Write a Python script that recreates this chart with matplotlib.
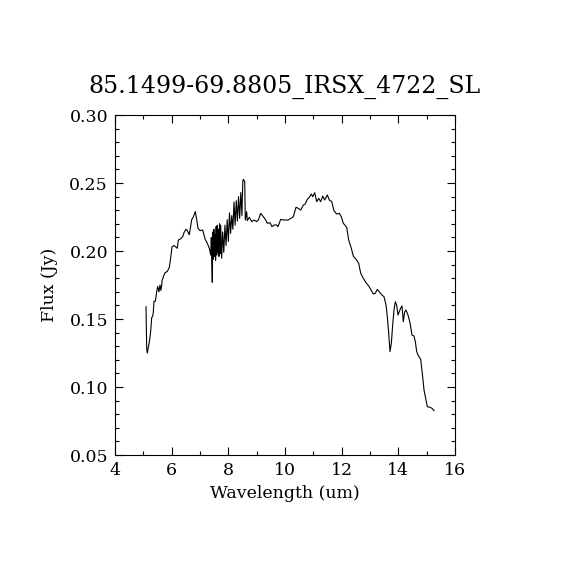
import matplotlib
matplotlib.use("Agg")
import matplotlib.pyplot as plt
from matplotlib.ticker import MultipleLocator, FormatStrFormatter

# spectrum
wave = [5.094, 5.119, 5.140, 5.211, 5.260, 5.295, 5.331, 5.352, 5.376, 5.422,
        5.472, 5.507, 5.550, 5.588, 5.620, 5.650, 5.659, 5.705, 5.765, 5.846,
        5.917, 5.966, 6.012, 6.082, 6.199, 6.234, 6.319, 6.389, 6.435, 6.506,
        6.552, 6.622, 6.707, 6.764, 6.834, 6.884, 6.929, 7.000, 7.095, 7.176,
        7.258, 7.328, 7.378, 7.400, 7.413, 7.434, 7.450, 7.470, 7.490, 7.510,
        7.530, 7.550, 7.570, 7.590, 7.610, 7.630, 7.650, 7.670, 7.690, 7.710,
        7.730, 7.766, 7.800, 7.840, 7.880, 7.920, 7.960, 8.000, 8.040, 8.080,
        8.120, 8.160, 8.200, 8.240, 8.280, 8.320, 8.360, 8.400, 8.440, 8.480,
        8.510, 8.530, 8.578, 8.599, 8.648, 8.669, 8.740, 8.825,
        8.906, 9.000, 9.058, 9.142, 9.234, 9.305, 9.375, 9.471, 9.541, 9.612,
        9.706, 9.753, 9.848, 9.940, 10.060, 10.116, 10.293, 10.388, 10.470, 10.554,
        10.646, 10.717, 10.787, 10.858, 10.929, 10.979, 11.048, 11.119, 11.190, 11.260,
        11.331, 11.400, 11.493, 11.564, 11.649, 11.729, 11.825, 11.917, 11.988, 12.058,
        12.178, 12.248, 12.340, 12.411, 12.506, 12.601, 12.672, 12.764, 12.859, 12.954,
        13.024, 13.116, 13.187, 13.258, 13.353, 13.424, 13.494, 13.565, 13.611, 13.660,
        13.706, 13.753, 13.800, 13.847, 13.894, 13.940, 13.988, 14.035, 14.080, 14.129,
        14.175, 14.224, 14.270, 14.341, 14.412, 14.482, 14.553, 14.600, 14.648, 14.694,
        14.788, 14.859, 14.906, 14.976, 15.023, 15.118, 15.188, 15.259]
flux = [0.159, 0.128, 0.125, 0.133, 0.141, 0.151, 0.152, 0.155, 0.163, 0.163,
        0.170, 0.174, 0.170, 0.175, 0.171, 0.175, 0.178, 0.181, 0.184, 0.185,
        0.188, 0.195, 0.203, 0.204, 0.202, 0.208, 0.209, 0.2105, 0.2135, 0.216,
        0.215, 0.212, 0.223, 0.225, 0.229, 0.223, 0.2167, 0.215, 0.2154, 0.209,
        0.2057, 0.202, 0.197, 0.210, 0.195, 0.177, 0.214, 0.194, 0.216, 0.196,
        0.212, 0.193, 0.218, 0.197, 0.219, 0.199, 0.216, 0.196, 0.220, 0.198,
        0.219, 0.1946, 0.214, 0.199, 0.219, 0.204, 0.223, 0.207, 0.228, 0.213,
        0.226, 0.216, 0.236, 0.219, 0.237, 0.222, 0.240, 0.224, 0.243, 0.226,
        0.251, 0.2527, 0.251, 0.2228, 0.2289, 0.2223, 0.2248, 0.2216,
        0.2228, 0.2216, 0.2228, 0.2277, 0.2252, 0.2233, 0.2204, 0.2208, 0.2179, 0.2191,
        0.2191, 0.2179, 0.2233, 0.2228, 0.2228, 0.2228, 0.2252, 0.2321, 0.2314, 0.2301,
        0.2338, 0.2346, 0.2380, 0.2395, 0.2419, 0.2399, 0.2429, 0.2363, 0.2387, 0.2363,
        0.2404, 0.2375, 0.2412, 0.2375, 0.2363, 0.2296, 0.2272, 0.2277, 0.2252, 0.2204,
        0.2174, 0.2081, 0.202, 0.1963, 0.1939, 0.1910, 0.1836, 0.1799, 0.1767, 0.1743,
        0.1718, 0.1684, 0.1689, 0.1718, 0.1693, 0.1676, 0.1664, 0.1603, 0.1517, 0.1395,
        0.1260, 0.1321, 0.1456, 0.1566, 0.1627, 0.1603, 0.1529, 0.1554, 0.1579, 0.1596,
        0.1480, 0.1554, 0.1566, 0.1529, 0.1473, 0.1382, 0.1375, 0.1333, 0.1260, 0.1235,
        0.1204, 0.1076, 0.0978, 0.0904, 0.0855, 0.0851, 0.0843, 0.0826]

title = "85.1499-69.8805_IRSX_4722_SL"

plt.rcParams['font.family'] = ['DejaVu Serif']

fig = plt.figure(figsize=(5.7, 5.7), dpi=100)
ax = fig.add_axes([115/570, 115/570, 340/570, 340/570])

ax.plot(wave, flux, color='black', lw=0.8)

ax.set_xlim(4, 16)
ax.set_ylim(0.05, 0.30)
ax.xaxis.set_major_locator(MultipleLocator(2))
ax.xaxis.set_minor_locator(MultipleLocator(1))
ax.yaxis.set_major_locator(MultipleLocator(0.05))
ax.yaxis.set_minor_locator(MultipleLocator(0.01))
ax.yaxis.set_major_formatter(FormatStrFormatter('%.2f'))
ax.tick_params(which='both', direction='in', top=True, right=True,
               labelsize=12.5, width=0.8, pad=5)
ax.tick_params(which='major', length=6)
ax.tick_params(which='minor', length=3)
for s in ax.spines.values():
    s.set_linewidth(0.8)

ax.set_xlabel("Wavelength (um)", fontsize=12.5, labelpad=4)
ax.set_ylabel("Flux (Jy)", fontsize=12.5, labelpad=8)
ax.set_title(title, fontsize=17, pad=16)

fig.savefig("out.png", dpi=100)
